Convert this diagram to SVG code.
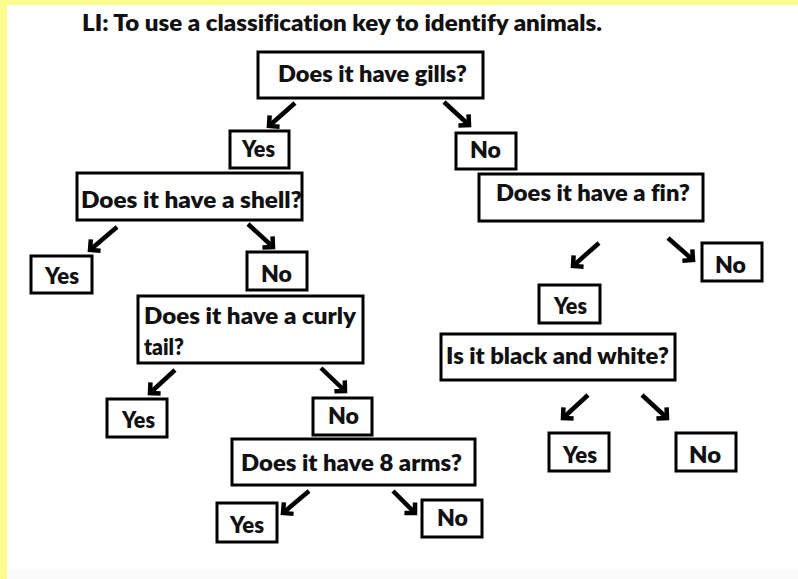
<svg xmlns="http://www.w3.org/2000/svg" width="798" height="579" viewBox="0 0 798 579">
<style>
.bx{fill:#fff;stroke:#000;stroke-width:3}
.t{font-family:Lato,"Open Sans","Liberation Sans",sans-serif;font-weight:800;font-size:22px;fill:#111;font-variant-ligatures:none}
.ar{fill:none;stroke:#000;stroke-width:4.5;marker-end:url(#ah)}
</style>
<defs>
<marker id="ah" markerUnits="userSpaceOnUse" viewBox="-12 -12 16 24" markerWidth="16" markerHeight="24" refX="0" refY="0" orient="auto" overflow="visible">
<path d="M-7.5,-7.5 L0,0 L-7.5,7.5" fill="none" stroke="#000" stroke-width="4.5" stroke-linejoin="miter"/>
</marker>
</defs>
<rect x="0" y="0" width="798" height="579" fill="#FDFD8E"/>
<rect x="7" y="5" width="791" height="574" fill="#fff"/>
<rect x="7" y="570" width="791" height="9" fill="#fafafa"/>
<text class="t" x="82" y="31" font-size="21" textLength="520" lengthAdjust="spacingAndGlyphs">LI: To use a classification key to identify animals.</text>

<g id="q-gills"><rect class="bx" x="258" y="52" width="225" height="46"/><text class="t" x="278" y="82" textLength="189" lengthAdjust="spacingAndGlyphs">Does it have gills?</text></g>
<g id="gills-yes"><rect class="bx" x="230" y="131" width="59" height="37"/><text class="t" x="242" y="157" textLength="33" lengthAdjust="spacingAndGlyphs">Yes</text></g>
<g id="gills-no"><rect class="bx" x="456" y="133" width="60" height="36"/><text class="t" x="470" y="158" textLength="31" lengthAdjust="spacingAndGlyphs">No</text></g>

<g id="q-shell"><rect class="bx" x="77" y="173" width="225" height="47"/><text class="t" x="81" y="208" textLength="221" lengthAdjust="spacingAndGlyphs">Does it have a shell?</text></g>
<g id="q-fin"><rect class="bx" x="479" y="174" width="224" height="47"/><text class="t" x="496" y="201" textLength="194" lengthAdjust="spacingAndGlyphs">Does it have a fin?</text></g>

<g id="shell-yes"><rect class="bx" x="31" y="256" width="61" height="37"/><text class="t" x="45" y="284" textLength="34" lengthAdjust="spacingAndGlyphs">Yes</text></g>
<g id="shell-no"><rect class="bx" x="247" y="252" width="60" height="38"/><text class="t" x="261" y="282" textLength="31" lengthAdjust="spacingAndGlyphs">No</text></g>

<g id="q-curly"><rect class="bx" x="138" y="296" width="225" height="67"/><text class="t" x="144" y="324" textLength="212" lengthAdjust="spacingAndGlyphs">Does it have a curly</text><text class="t" x="144" y="355" textLength="40" lengthAdjust="spacingAndGlyphs">tail?</text></g>

<g id="fin-no"><rect class="bx" x="702" y="243" width="60" height="38"/><text class="t" x="715" y="273" textLength="31" lengthAdjust="spacingAndGlyphs">No</text></g>
<g id="fin-yes"><rect class="bx" x="539" y="285" width="61" height="38"/><text class="t" x="554" y="314" textLength="33" lengthAdjust="spacingAndGlyphs">Yes</text></g>
<g id="q-bw"><rect class="bx" x="441" y="334" width="234" height="46"/><text class="t" x="446" y="364" textLength="223" lengthAdjust="spacingAndGlyphs">Is it black and white?</text></g>

<g id="curly-yes"><rect class="bx" x="107" y="399" width="60" height="38"/><text class="t" x="122" y="428" textLength="33" lengthAdjust="spacingAndGlyphs">Yes</text></g>
<g id="curly-no"><rect class="bx" x="313" y="398" width="59" height="37"/><text class="t" x="328" y="424" textLength="31" lengthAdjust="spacingAndGlyphs">No</text></g>

<g id="q-arms"><rect class="bx" x="232" y="439" width="243" height="46"/><text class="t" x="241" y="471" textLength="221" lengthAdjust="spacingAndGlyphs">Does it have 8 arms?</text></g>
<g id="arms-yes"><rect class="bx" x="217" y="503" width="60" height="39"/><text class="t" x="230" y="533" textLength="34" lengthAdjust="spacingAndGlyphs">Yes</text></g>
<g id="arms-no"><rect class="bx" x="422" y="500" width="60" height="37"/><text class="t" x="437" y="526" textLength="31" lengthAdjust="spacingAndGlyphs">No</text></g>

<g id="bw-yes"><rect class="bx" x="549" y="433" width="60" height="38"/><text class="t" x="563" y="463" textLength="34" lengthAdjust="spacingAndGlyphs">Yes</text></g>
<g id="bw-no"><rect class="bx" x="676" y="433" width="60" height="38"/><text class="t" x="689" y="463" textLength="32" lengthAdjust="spacingAndGlyphs">No</text></g>

<g id="connectors">
<path class="ar" d="M295,103 L269,126"/>
<path class="ar" d="M444,102 L469,125"/>
<path class="ar" d="M117,227 L90,250"/>
<path class="ar" d="M248,224 L273,247"/>
<path class="ar" d="M599,243 L573,266"/>
<path class="ar" d="M668,238 L693,260"/>
<path class="ar" d="M175,370 L150,393"/>
<path class="ar" d="M321,368 L345,391"/>
<path class="ar" d="M588,395 L563,418"/>
<path class="ar" d="M642,395 L667,418"/>
<path class="ar" d="M309,491 L283,513"/>
<path class="ar" d="M393,491 L415,513"/>
</g>
</svg>
